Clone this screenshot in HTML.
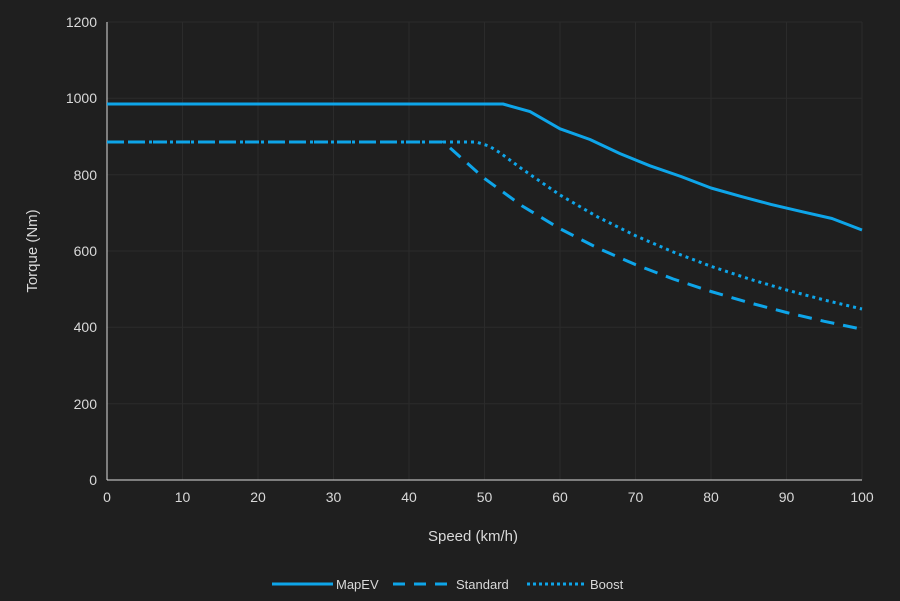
<!DOCTYPE html><html><head><style>body{margin:0;background:#1f1f1f}svg text{font-family:"Liberation Sans",sans-serif;fill:#d9d9d9}</style></head><body>
<svg width="900" height="596" xmlns="http://www.w3.org/2000/svg">
<rect width="900" height="596" fill="#1f1f1f"/>
<g stroke="#2b2b2b" stroke-width="1">
<line x1="107" x2="862" y1="22" y2="22"/><line x1="107" x2="862" y1="98.3" y2="98.3"/><line x1="107" x2="862" y1="174.7" y2="174.7"/><line x1="107" x2="862" y1="251" y2="251"/><line x1="107" x2="862" y1="327.3" y2="327.3"/><line x1="107" x2="862" y1="403.7" y2="403.7"/>
<line x1="182.5" x2="182.5" y1="22" y2="480"/><line x1="258" x2="258" y1="22" y2="480"/><line x1="333.5" x2="333.5" y1="22" y2="480"/><line x1="409" x2="409" y1="22" y2="480"/><line x1="484.5" x2="484.5" y1="22" y2="480"/><line x1="560" x2="560" y1="22" y2="480"/><line x1="635.5" x2="635.5" y1="22" y2="480"/><line x1="711" x2="711" y1="22" y2="480"/><line x1="786.5" x2="786.5" y1="22" y2="480"/><line x1="862" x2="862" y1="22" y2="480"/>
</g>
<line x1="107" x2="107" y1="22" y2="480" stroke="#ddd"/><line x1="107" x2="862" y1="480" y2="480" stroke="#ddd"/>
<g font-size="14" text-anchor="end">
<text x="97" y="485">0</text><text x="97" y="409">200</text><text x="97" y="332">400</text><text x="97" y="256">600</text><text x="97" y="180">800</text><text x="97" y="103">1000</text><text x="97" y="27">1200</text></g>
<g font-size="14" text-anchor="middle">
<text x="107" y="502">0</text><text x="182.5" y="502">10</text><text x="258" y="502">20</text><text x="333.5" y="502">30</text><text x="409" y="502">40</text><text x="484.5" y="502">50</text><text x="560" y="502">60</text><text x="635.5" y="502">70</text><text x="711" y="502">80</text><text x="786.5" y="502">90</text><text x="862" y="502">100</text>
<text x="473" y="541" font-size="15">Speed (km/h)</text>
<text transform="translate(37,251) rotate(-90)" font-size="15">Torque (Nm)</text></g>
<g fill="none" stroke="#0ea5e9" stroke-width="3" stroke-linejoin="round">
<polyline points="107,104 503,104 530,111.6 560,128.8 590,139.5 620,153.6 650,165.8 681,176.5 711,188 741,196.4 771,204.4 802,211.7 832,218.5 862,230"/>
<polyline stroke-dasharray="14,9" points="107,142 442,142 446.75,145 484.5,178.5 522.25,206 560,228.7 597.75,248.1 635.5,264.6 673.25,279 711,291.5 748.75,302.6 786.5,312.5 824.25,321.3 862,329.2"/>
<polyline stroke-dasharray="3,4" points="107,142 476,142 489,146 499.6,152.5 522.25,169.1 560,195 597.75,217 635.5,235.7 673.25,252 711,266.3 748.75,278.8 786.5,290 824.25,300 862,309"/>
</g>
<g fill="none" stroke="#0ea5e9" stroke-width="3">
<line x1="272" x2="333" y1="584" y2="584"/>
<line x1="393" x2="450" y1="584" y2="584" stroke-dasharray="12,9"/>
<line x1="527" x2="584" y1="584" y2="584" stroke-dasharray="3,3"/></g>
<g font-size="13"><text x="336" y="589">MapEV</text><text x="456" y="589">Standard</text><text x="590" y="589">Boost</text></g>
</svg></body></html>
